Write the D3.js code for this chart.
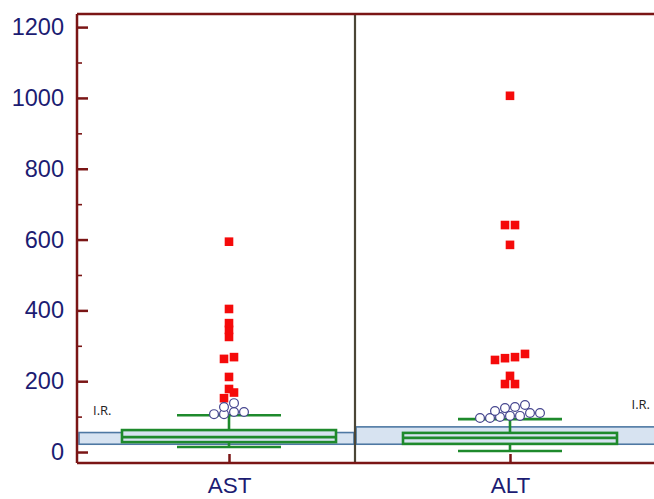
<!DOCTYPE html>
<html><head><meta charset="utf-8">
<script src="https://cdn.jsdelivr.net/npm/d3@7"></script>
<style>body{margin:0;background:#fff}svg{display:block}</style>
</head><body>
<svg id="c" width="654" height="499"></svg>
<script>
// ---- data ----
const categories = ["AST", "ALT"];
const yTicks = [0, 200, 400, 600, 800, 1000, 1200];
const yMinorTicks = [100, 300, 500, 700, 900, 1100];
const irLow = [22, 22];
const irHigh = [55, 71];
const whiskerLow = [14, 3];
const q1 = [28, 23];
const median = [42, 40];
const q3 = [62, 54];
const whiskerHigh = [104, 93];
const outsideAST = [107, 107, 113, 113, 127, 138];
const farAST = [594, 404, 364, 345, 325, 268, 263, 212, 178, 168, 152];
const outsideALT = [96, 96, 99, 102, 102, 110, 110, 116, 124, 127, 133];
const farALT = [1006, 641, 641, 585, 277, 268, 265, 260, 215, 192, 192];

const outside = [outsideAST, outsideALT];
const far = [farAST, farALT];

// ---- layout ----
const W = 654, H = 499;
const mLeft = 77, mTop = 14, mBottom = 463;
const svg = d3.select("#c");
const y = d3.scaleLinear().domain([-31, 1237]).range([mBottom, mTop]);
const x = d3.scalePoint().domain(categories).range([229, 510]);
const divX = 355;
const navy = "#1c1c72", frame = "#7a1515";

// reference interval bands
const bandX = [[mLeft + 2, divX - 1], [divX + 1, W + 2]];
categories.forEach((c, i) => {
  svg.append("rect")
    .attr("x", bandX[i][0]).attr("width", bandX[i][1] - bandX[i][0])
    .attr("y", y(irHigh[i])).attr("height", y(irLow[i]) - y(irHigh[i]))
    .attr("fill", "#d7e3f1").attr("stroke", "#4e78a3").attr("stroke-width", 1.6);
  const lbl = svg.append("text").text("I.R.")
    .attr("y", y(irHigh[i]) - 18)
    .attr("font-family", "Open Sans, Liberation Sans, sans-serif")
    .attr("font-size", 13).attr("fill", "#222");
  if (i === 0) lbl.attr("x", mLeft + 16);
  else lbl.attr("x", W - 4).attr("text-anchor", "end");
});

// divider
svg.append("line").attr("x1", divX).attr("x2", divX).attr("y1", mTop).attr("y2", mBottom)
  .attr("stroke", "#4a4536").attr("stroke-width", 2.2);

// box plots
const green = "#1e8a2c";
const boxHalf = 107, capHalf = 52;
categories.forEach((c, i) => {
  const cx = x(c);
  const g = svg.append("g").attr("stroke", green).attr("fill", "none").attr("stroke-width", 2.6);
  g.append("line").attr("x1", cx).attr("x2", cx).attr("y1", y(whiskerHigh[i])).attr("y2", y(whiskerLow[i]));
  g.append("line").attr("x1", cx - capHalf).attr("x2", cx + capHalf).attr("y1", y(whiskerHigh[i])).attr("y2", y(whiskerHigh[i]));
  g.append("line").attr("x1", cx - capHalf).attr("x2", cx + capHalf).attr("y1", y(whiskerLow[i])).attr("y2", y(whiskerLow[i]));
  g.append("rect").attr("x", cx - boxHalf).attr("width", 2 * boxHalf)
    .attr("y", y(q3[i])).attr("height", y(q1[i]) - y(q3[i])).attr("fill", "#d7e3f1");
  g.append("line").attr("x1", cx - boxHalf).attr("x2", cx + boxHalf).attr("y1", y(median[i])).attr("y2", y(median[i]));
});

// row-based dot placement: values close in pixel space share a row, centred on the category
function rows(values, cx, step, thresh) {
  const sorted = values.slice().sort((a, b) => a - b);
  const groups = [];
  let cur = null;
  sorted.forEach(v => {
    if (!cur || y(cur[0]) - y(v) > thresh) { cur = [v]; groups.push(cur); }
    else cur.push(v);
  });
  const out = [];
  groups.forEach(g => g.forEach((v, k) => out.push({v, px: cx + (k - (g.length - 1) / 2) * step, py: y(v)})));
  return out;
}

categories.forEach((c, i) => {
  const cx = x(c);
  const sq = rows(far[i], cx, 10, 6.5);
  svg.append("g").selectAll("rect").data(sq).join("rect")
    .attr("x", d => d.px - 4.3).attr("y", d => d.py - 4.3)
    .attr("width", 8.6).attr("height", 8.6).attr("fill", "#f50a0a");
  const ci = rows(outside[i], cx, 10, 6.5);
  svg.append("g").selectAll("circle").data(ci).join("circle")
    .attr("cx", d => d.px).attr("cy", d => d.py).attr("r", 4.4)
    .attr("fill", "#fff").attr("stroke", "#46468f").attr("stroke-width", 1.2);
});

// frame
svg.append("line").attr("x1", mLeft).attr("x2", W).attr("y1", mTop).attr("y2", mTop)
  .attr("stroke", frame).attr("stroke-width", 2.5);
svg.append("line").attr("x1", mLeft).attr("x2", W).attr("y1", mBottom).attr("y2", mBottom)
  .attr("stroke", frame).attr("stroke-width", 2.5);

// y axis
const yAxis = d3.axisLeft(y).tickValues(yTicks).tickFormat(d3.format("d"))
  .tickSize(-11).tickPadding(13).tickSizeOuter(0);
const ga = svg.append("g").attr("transform", `translate(${mLeft},0)`).call(yAxis);
ga.select(".domain").attr("stroke", frame).attr("stroke-width", 2.5).attr("d", `M0,${mTop}V${mBottom}`);
ga.selectAll(".tick line").attr("stroke", frame).attr("stroke-width", 2.5);
ga.selectAll(".tick text").attr("fill", navy)
  .attr("font-family", "Liberation Sans, Arial, sans-serif").attr("font-size", 23.5);
const ym = d3.axisLeft(y).tickValues(yMinorTicks).tickSize(-5).tickFormat("");
const gm = svg.append("g").attr("transform", `translate(${mLeft},0)`).call(ym);
gm.select(".domain").remove();
gm.selectAll(".tick line").attr("stroke", frame).attr("stroke-width", 1.6);

// x axis
const xAxis = d3.axisBottom(x).tickSize(-9).tickPadding(14).tickSizeOuter(0);
const gx = svg.append("g").attr("transform", `translate(0,${mBottom})`).call(xAxis);
gx.select(".domain").remove();
gx.selectAll(".tick line").attr("stroke", frame).attr("stroke-width", 2.5);
gx.selectAll(".tick text").attr("fill", navy)
  .attr("font-family", "Liberation Sans, Arial, sans-serif").attr("font-size", 22.5);
</script>
</body></html>
